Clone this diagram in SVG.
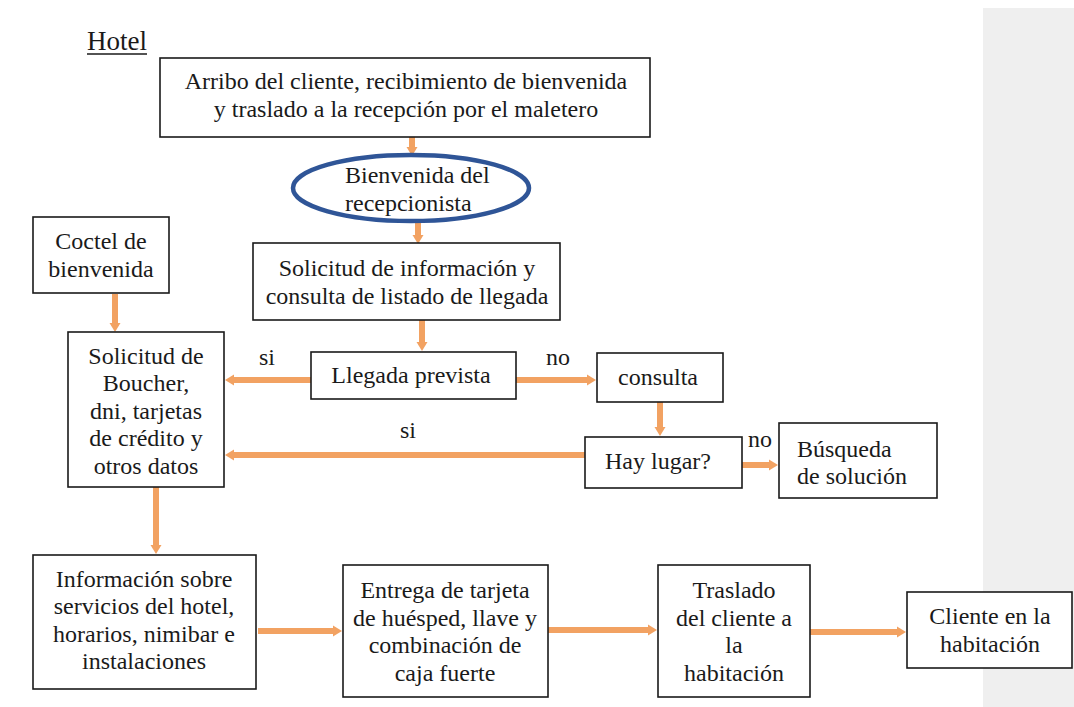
<svg xmlns="http://www.w3.org/2000/svg" width="1074" height="707" viewBox="0 0 1074 707">
<defs>
<style>
.box{fill:#fff;stroke:#1a1a1a;stroke-width:1.6}
.con{stroke:#F2A262;stroke-width:6;fill:none}
</style>
<marker id="ah" markerUnits="userSpaceOnUse" markerWidth="10" markerHeight="12" refX="2" refY="6" orient="auto">
<path d="M0,0.5 L9,6 L0,11.5 z" fill="#F2A262"/>
</marker>
</defs>
<rect x="983" y="8" width="91" height="699" fill="#EFEFEF"/>
<g id="title">
<text x="87" y="50" font-family="Liberation Serif" font-size="27" fill="#1a1a1a">Hotel</text>
<line x1="87" y1="54" x2="147" y2="54" stroke="#1a1a1a" stroke-width="1.4"/>
</g>
<g id="connectors">
<line class="con" x1="412" y1="137" x2="412" y2="149" marker-end="url(#ah)"/>
<line class="con" x1="418" y1="223" x2="418" y2="237" marker-end="url(#ah)"/>
<line class="con" x1="422" y1="320" x2="422" y2="344" marker-end="url(#ah)"/>
<line class="con" x1="115" y1="294" x2="115" y2="325" marker-end="url(#ah)"/>
<line class="con" x1="311" y1="380" x2="232" y2="380" marker-end="url(#ah)"/>
<line class="con" x1="516" y1="380" x2="589" y2="380" marker-end="url(#ah)"/>
<line class="con" x1="660" y1="402" x2="660" y2="429" marker-end="url(#ah)"/>
<line class="con" x1="585" y1="455" x2="232" y2="455" marker-end="url(#ah)"/>
<line class="con" x1="742" y1="465" x2="771" y2="465" marker-end="url(#ah)"/>
<line class="con" x1="156" y1="487" x2="156" y2="547" marker-end="url(#ah)"/>
<line class="con" x1="258" y1="631" x2="335" y2="631" marker-end="url(#ah)"/>
<line class="con" x1="548" y1="630" x2="650" y2="630" marker-end="url(#ah)"/>
<line class="con" x1="810" y1="632" x2="899" y2="632" marker-end="url(#ah)"/>
<g font-family="Liberation Serif" font-size="24" fill="#1a1a1a" text-anchor="middle">
<text x="267" y="365" font-family="Liberation Serif">si</text>
<text x="558" y="365" font-family="Liberation Serif">no</text>
<text x="408" y="438" font-family="Liberation Serif">si</text>
<text x="760" y="447" font-family="Liberation Serif">no</text>
</g>
</g>
<g font-size="24" fill="#1a1a1a" text-anchor="middle">
<g id="n1">
<rect class="box" x="160" y="58" width="490" height="79"/>
<text x="406" y="89" font-family="Liberation Serif">Arribo del cliente, recibimiento de bienvenida</text>
<text x="406" y="117" font-family="Liberation Serif">y traslado a la recepción por el maletero</text>
</g>
<g id="n2">
<ellipse cx="411" cy="188" rx="118" ry="33" fill="#fff" stroke="#2F5597" stroke-width="4.5"/>
<text x="345" y="183" text-anchor="start" font-family="Liberation Serif">Bienvenida del</text>
<text x="345" y="211" text-anchor="start" font-family="Liberation Serif">recepcionista</text>
</g>
<g id="n3">
<rect class="box" x="253" y="243" width="307" height="77"/>
<text x="407" y="276" font-family="Liberation Serif">Solicitud de información y</text>
<text x="407" y="304" font-family="Liberation Serif">consulta de listado de llegada</text>
</g>
<g id="n4">
<rect class="box" x="33" y="217" width="136" height="76"/>
<text x="101" y="249" font-family="Liberation Serif">Coctel de</text>
<text x="101" y="277" font-family="Liberation Serif">bienvenida</text>
</g>
<g id="n5">
<rect class="box" x="68" y="332" width="156" height="155"/>
<text x="146" y="364" font-family="Liberation Serif">Solicitud de</text>
<text x="146" y="391" font-family="Liberation Serif">Boucher,</text>
<text x="146" y="419" font-family="Liberation Serif">dni, tarjetas</text>
<text x="146" y="446" font-family="Liberation Serif">de crédito y</text>
<text x="146" y="474" font-family="Liberation Serif">otros datos</text>
</g>
<g id="n6">
<rect class="box" x="311" y="352" width="205" height="47"/>
<text x="411" y="383" font-family="Liberation Serif">Llegada prevista</text>
</g>
<g id="n7">
<rect class="box" x="597" y="353" width="126" height="49"/>
<text x="658" y="385" font-family="Liberation Serif">consulta</text>
</g>
<g id="n8">
<rect class="box" x="585" y="437" width="157" height="51"/>
<text x="658" y="469" font-family="Liberation Serif">Hay lugar?</text>
</g>
<g id="n9">
<rect class="box" x="779" y="423" width="158" height="75"/>
<text x="797" y="457" text-anchor="start" font-family="Liberation Serif">Búsqueda</text>
<text x="797" y="484" text-anchor="start" font-family="Liberation Serif">de solución</text>
</g>
<g id="n10">
<rect class="box" x="33" y="555" width="223" height="134"/>
<text x="144" y="587" font-family="Liberation Serif">Información sobre</text>
<text x="144" y="614" font-family="Liberation Serif">servicios del hotel,</text>
<text x="144" y="642" font-family="Liberation Serif">horarios, nimibar e</text>
<text x="144" y="669" font-family="Liberation Serif">instalaciones</text>
</g>
<g id="n11">
<rect class="box" x="343" y="565" width="205" height="132"/>
<text x="445" y="598" font-family="Liberation Serif">Entrega de tarjeta</text>
<text x="445" y="626" font-family="Liberation Serif">de huésped, llave y</text>
<text x="445" y="653" font-family="Liberation Serif">combinación de</text>
<text x="445" y="681" font-family="Liberation Serif">caja fuerte</text>
</g>
<g id="n12">
<rect class="box" x="658" y="565" width="152" height="132"/>
<text x="734" y="598" font-family="Liberation Serif">Traslado</text>
<text x="734" y="626" font-family="Liberation Serif">del cliente a</text>
<text x="734" y="653" font-family="Liberation Serif">la</text>
<text x="734" y="681" font-family="Liberation Serif">habitación</text>
</g>
<g id="n13">
<rect class="box" x="907" y="592" width="165" height="76"/>
<text x="990" y="624" font-family="Liberation Serif">Cliente en la</text>
<text x="990" y="652" font-family="Liberation Serif">habitación</text>
</g>
</g>
</svg>
